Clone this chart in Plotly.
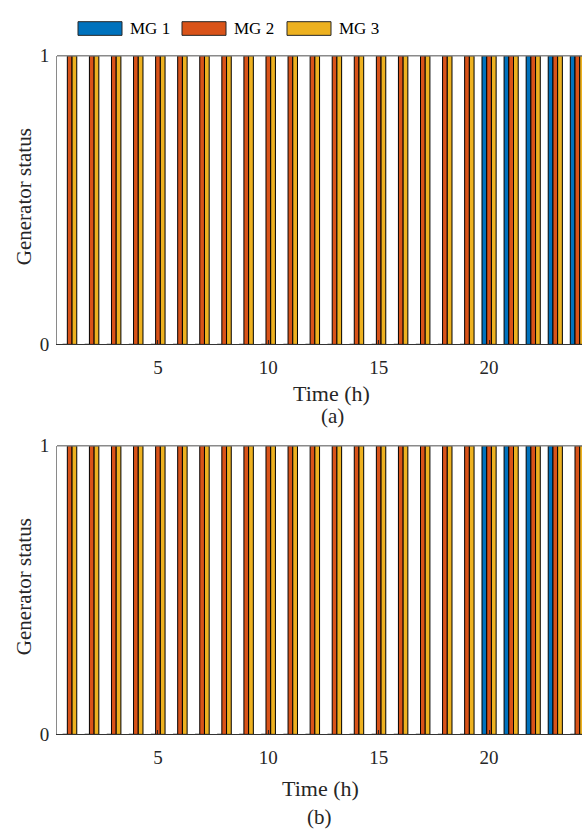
import plotly.graph_objects as go

# ---- data ----
hours = [1, 2, 3, 4, 5, 6, 7, 8, 9, 10, 11, 12, 13, 14, 15, 16, 17, 18, 19, 20, 21, 22, 23, 24]
series_names = ["MG 1", "MG 2", "MG 3"]
series_colors = ["#0072BD", "#D95319", "#EDB120"]

# panel (a)
mg1_a = [0, 0, 0, 0, 0, 0, 0, 0, 0, 0, 0, 0, 0, 0, 0, 0, 0, 0, 0, 1, 1, 1, 1, 1]
mg2_a = [1, 1, 1, 1, 1, 1, 1, 1, 1, 1, 1, 1, 1, 1, 1, 1, 1, 1, 1, 1, 1, 1, 1, 1]
mg3_a = [1, 1, 1, 1, 1, 1, 1, 1, 1, 1, 1, 1, 1, 1, 1, 1, 1, 1, 1, 1, 1, 1, 1, 1]
# panel (b)
mg1_b = [0, 0, 0, 0, 0, 0, 0, 0, 0, 0, 0, 0, 0, 0, 0, 0, 0, 0, 0, 1, 1, 1, 1, 0]
mg2_b = [1, 1, 1, 1, 1, 1, 1, 1, 1, 1, 1, 1, 1, 1, 1, 1, 1, 1, 1, 1, 1, 1, 1, 1]
mg3_b = [1, 1, 1, 1, 1, 1, 1, 1, 1, 1, 1, 1, 1, 1, 1, 1, 1, 1, 1, 1, 1, 1, 1, 1]

x_ticks = [5, 10, 15, 20]
y_ticks = [0, 1]
x_title = "Time (h)"
y_title = "Generator status"
panel_labels = ["(a)", "(b)"]

W, H = 582, 838
FONT = "Liberation Serif"


def py(px):
    return 1 - px / H


def pxx(px):
    return px / W


fig = go.Figure()
panels = [(mg1_a, mg2_a, mg3_a), (mg1_b, mg2_b, mg3_b)]
for i, vals in enumerate(panels):
    xa = "x" if i == 0 else "x2"
    ya = "y" if i == 0 else "y2"
    for name, color, v in zip(series_names, series_colors, vals):
        fig.add_trace(go.Bar(
            x=hours, y=v, name=name, xaxis=xa, yaxis=ya,
            marker=dict(color=color, line=dict(color="#000000", width=1)),
            showlegend=False,
        ))

axis_common_x = dict(
    range=[0.425, 24.21], tickvals=x_ticks, ticks="inside", ticklen=4,
    tickcolor="#262626", showline=True, linecolor="#333333", linewidth=1.2,
    showgrid=False, zeroline=False, tickfont=dict(family=FONT, size=19, color="#262626"),
    ticklabelstandoff=6,
)
axis_common_y = dict(
    range=[0, 1], tickvals=y_ticks, ticks="inside", ticklen=5,
    tickcolor="#262626", showline=True, linecolor="#8a8a8a", linewidth=1,
    showgrid=False, zeroline=False, tickfont=dict(family=FONT, size=19, color="#262626"),
    ticklabelstandoff=3,
)

dom_left = pxx(57)
fig.update_layout(
    width=W, height=H,
    margin=dict(l=0, r=0, t=0, b=0),
    paper_bgcolor="white", plot_bgcolor="white",
    font=dict(family=FONT),
    barmode="group", bargap=0.36, bargroupgap=0,
    xaxis=dict(domain=[dom_left, 1], anchor="y", **axis_common_x),
    yaxis=dict(domain=[py(343), py(47)], anchor="x", **axis_common_y),
    xaxis2=dict(domain=[dom_left, 1], anchor="y2", **axis_common_x),
    yaxis2=dict(domain=[py(743), py(447)], anchor="x2", **axis_common_y),
    showlegend=False,
)

# top box lines
for ya in ["y", "y2"]:
    xa = "x" if ya == "y" else "x2"
    fig.add_shape(type="line", xref=f"{xa} domain", yref=f"{ya} domain",
                  x0=0, x1=1, y0=1, y1=1, line=dict(color="#8a8a8a", width=1.5))

# axis titles and panel labels
annos = []
title_pos = [(331, 393, 332, 416, 192), (320, 798, 319, 828, 592)]
for lbl, (tx, ty, lx, ly, yy) in zip(panel_labels, title_pos):
    annos.append(dict(text=x_title, x=pxx(tx), y=py(ty), xref="paper", yref="paper",
                      showarrow=False, xanchor="center", yanchor="middle",
                      font=dict(family=FONT, size=22, color="#262626")))
    annos.append(dict(text=lbl, x=pxx(lx), y=py(ly), xref="paper", yref="paper",
                      showarrow=False, xanchor="center", yanchor="middle",
                      font=dict(family=FONT, size=21, color="#262626")))
    annos.append(dict(text=y_title, x=pxx(24), y=py(yy), xref="paper", yref="paper",
                      showarrow=False, xanchor="center", yanchor="middle", textangle=-90,
                      font=dict(family=FONT, size=21, color="#262626")))

# manual legend (wide MATLAB-style boxes)
legend_box_x = [78, 182, 287]
for name, color, bx in zip(series_names, series_colors, legend_box_x):
    fig.add_shape(type="rect", xref="paper", yref="paper",
                  x0=pxx(bx), x1=pxx(bx + 44), y0=py(26), y1=py(12),
                  fillcolor=color, line=dict(color="#262626", width=1))
    annos.append(dict(text=name, x=pxx(bx + 50), y=py(19), xref="paper", yref="paper",
                      showarrow=False, xanchor="left", yanchor="middle",
                      font=dict(family=FONT, size=17, color="#000000")))

fig.update_layout(annotations=annos)
fig.write_html("out.html")
